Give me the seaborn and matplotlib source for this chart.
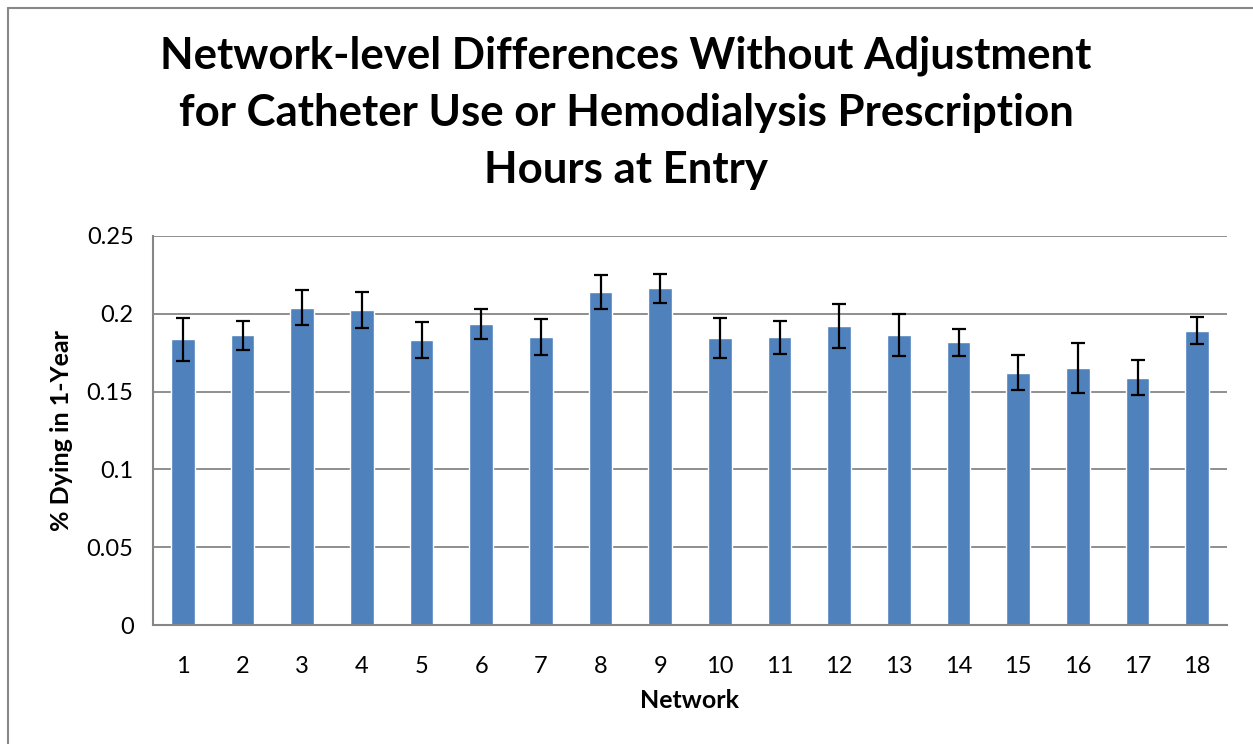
import matplotlib
matplotlib.use("Agg")
import matplotlib.pyplot as plt
import seaborn as sns
import pandas as pd
import numpy as np
from matplotlib.lines import Line2D

networks = [str(i) for i in range(1, 19)]
pct_dying = [0.1836, 0.1862, 0.2039, 0.2024, 0.1830, 0.1934, 0.1851, 0.2140, 0.2164,
             0.1844, 0.1849, 0.1920, 0.1862, 0.1817, 0.1618, 0.1654, 0.1589, 0.1891]
ci_upper = [0.1975, 0.1956, 0.2151, 0.2142, 0.1947, 0.2031, 0.1969, 0.2249, 0.2258,
            0.1973, 0.1954, 0.2061, 0.1997, 0.1904, 0.1733, 0.1812, 0.1703, 0.1979]
ci_lower = [0.1697, 0.1767, 0.1928, 0.1907, 0.1714, 0.1838, 0.1733, 0.2031, 0.2071,
            0.1714, 0.1744, 0.1780, 0.1731, 0.1729, 0.1508, 0.1493, 0.1478, 0.1806]
y_ticks = [0, 0.05, 0.1, 0.15, 0.2, 0.25]
y_tick_labels = ["0", "0.05", "0.1", "0.15", "0.2", "0.25"]
title = "Network-level Differences Without Adjustment\nfor Catheter Use or Hemodialysis Prescription\nHours at Entry"

df = pd.DataFrame({"Network": networks, "pct": pct_dying,
                   "lo": ci_lower, "hi": ci_upper})

sns.set_theme(style="white")
plt.rcParams["font.family"] = ["Lato", "DejaVu Sans"]
plt.rcParams["text.color"] = "black"
plt.rcParams["axes.labelcolor"] = "black"
plt.rcParams["xtick.labelcolor"] = "black"
plt.rcParams["ytick.labelcolor"] = "black"

fig = plt.figure(figsize=(12.53, 7.44), dpi=100)
ax = fig.add_axes([153/1253, 1 - 625/744, (1227-153)/1253, (625-236)/744])

sns.barplot(data=df, x="Network", y="pct", color="#4F81BD", saturation=1,
            width=0.4, errorbar=None, ax=ax, zorder=2)

xpos = np.arange(len(networks))
yerr = np.vstack([df["pct"] - df["lo"], df["hi"] - df["pct"]])
ax.errorbar(xpos, df["pct"], yerr=yerr, fmt="none", ecolor="black",
            elinewidth=1.6, capsize=4.8, capthick=1.6, zorder=3)

ax.set_ylim(0, 0.25)
ax.set_xlim(-0.5, len(networks) - 0.5)
ax.set_yticks(y_ticks)
ax.set_yticklabels(y_tick_labels, fontsize=17, color="black")
ax.set_xticks(xpos)
ax.set_xticklabels(networks, fontsize=17, color="black")
ax.tick_params(axis="x", length=0, pad=22)
ax.tick_params(axis="y", length=0, pad=14)

grid_c = "#868686"
for yt in y_ticks:
    if yt > 0:
        ax.axhline(yt, color=grid_c, lw=1.3, zorder=1)
ax.set_xticks(np.arange(-0.5, len(networks), 1.0), minor=True)
ax.set_yticks(y_ticks, minor=True)
ax.tick_params(axis="x", which="minor", length=7, width=1.5, color=grid_c, direction="out")
ax.tick_params(axis="y", which="minor", length=7, width=1.5, color=grid_c, direction="out")

for side in ["top", "right"]:
    ax.spines[side].set_visible(False)
for side in ["left", "bottom"]:
    ax.spines[side].set_color(grid_c)
    ax.spines[side].set_linewidth(1.5)

ax.set_xlabel("Network", fontsize=18, fontweight="bold", labelpad=9, color="black")
ax.set_ylabel("% Dying in 1-Year", fontsize=18, fontweight="bold", labelpad=10, color="black")

fig.text(0.4996, 1 - 36/744, title, ha="center", va="top", fontsize=31.5,
         fontweight="bold", linespacing=1.5, color="black")

# chart border
fig.add_artist(Line2D([8/1253, 8/1253], [0, 1 - 8/744], transform=fig.transFigure,
                      color="#888888", lw=1.5))
fig.add_artist(Line2D([8/1253, 1], [1 - 8/744, 1 - 8/744], transform=fig.transFigure,
                      color="#888888", lw=1.5))

fig.savefig("out.png", dpi=100, facecolor="white")
